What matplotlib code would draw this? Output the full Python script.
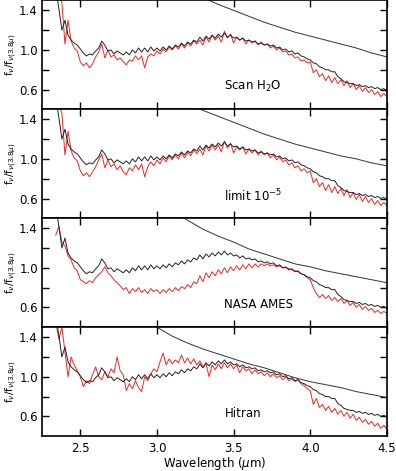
import numpy as np
import matplotlib
matplotlib.use("Agg")
import matplotlib.pyplot as plt
from matplotlib.ticker import FixedLocator, FuncFormatter

plt.rcParams['font.family'] = ['DejaVu Sans']
plt.rcParams['mathtext.fontset'] = 'dejavusans'

# ---------------- data ----------------
# observed spectrum, sampled every 0.02 um from 2.34 um
black_obs = [
    1.62, 1.42, 1.20, 1.30, 1.15, 1.10, 1.07, 1.05, 1.01, 0.97,
    0.94, 0.96, 0.95, 0.99, 1.02, 1.09, 1.05, 0.99, 1.00, 0.96,
    0.99, 0.97, 0.95, 0.98, 0.95, 1.00, 0.97, 1.02, 0.98, 1.02,
    0.98, 1.03, 0.99, 1.02, 0.99, 1.03, 1.00, 1.04, 1.01, 1.05,
    1.03, 1.07, 1.04, 1.08, 1.06, 1.10, 1.08, 1.13, 1.09, 1.14,
    1.11, 1.15, 1.12, 1.16, 1.13, 1.17, 1.13, 1.15, 1.12, 1.13,
    1.10, 1.12, 1.09, 1.10, 1.08, 1.09, 1.06, 1.07, 1.05, 1.06,
    1.04, 1.05, 1.02, 1.03, 1.00, 1.01, 0.98, 0.99, 0.96, 0.97,
    0.94, 0.93, 0.91, 0.90, 0.87, 0.86, 0.83, 0.82, 0.80, 0.80,
    0.78, 0.78, 0.73, 0.71, 0.68, 0.67, 0.66, 0.66, 0.64, 0.65,
    0.63, 0.64, 0.62, 0.63, 0.61, 0.62, 0.60, 0.61, 0.59]

red_scan = [
    1.62, 1.55, 1.48, 1.06, 1.30, 1.09, 1.02, 0.99, 0.88, 0.84,
    0.87, 0.82, 0.86, 0.93, 0.98, 1.06, 0.92, 1.00, 0.93, 0.95,
    0.90, 0.92, 0.88, 0.85, 0.90, 0.89, 0.94, 0.90, 0.94, 0.82,
    0.93, 0.96, 0.94, 0.99, 0.96, 1.01, 0.98, 1.03, 1.00, 1.04,
    1.01, 1.06, 1.02, 1.07, 1.04, 1.09, 1.06, 1.10, 1.05, 1.13,
    1.08, 1.15, 1.10, 1.14, 1.08, 1.19, 1.12, 1.16, 1.07, 1.13,
    1.10, 1.12, 1.06, 1.10, 1.07, 1.09, 1.05, 1.08, 1.05, 1.06,
    1.02, 1.04, 1.00, 1.02, 0.98, 0.99, 0.95, 0.96, 0.92, 0.93,
    0.89, 0.90, 0.87, 0.88, 0.77, 0.80, 0.73, 0.76, 0.69, 0.74,
    0.67, 0.72, 0.66, 0.70, 0.64, 0.69, 0.62, 0.66, 0.60, 0.64,
    0.58, 0.62, 0.57, 0.60, 0.55, 0.58, 0.53, 0.56, 0.53]

red_limit = [
    1.62, 1.55, 1.46, 1.04, 1.28, 1.08, 1.01, 0.98, 0.88, 0.83,
    0.86, 0.82, 0.87, 0.92, 0.99, 1.05, 0.91, 0.99, 0.92, 0.95,
    0.89, 0.93, 0.87, 0.84, 0.91, 0.88, 0.94, 0.89, 0.95, 0.82,
    0.92, 0.97, 0.93, 0.99, 0.95, 1.01, 0.97, 1.03, 0.99, 1.04,
    1.00, 1.06, 1.01, 1.07, 1.03, 1.09, 1.05, 1.10, 1.04, 1.13,
    1.08, 1.14, 1.09, 1.14, 1.07, 1.18, 1.11, 1.16, 1.06, 1.12,
    1.09, 1.12, 1.05, 1.10, 1.06, 1.09, 1.04, 1.08, 1.04, 1.06,
    1.01, 1.04, 0.99, 1.02, 0.97, 0.99, 0.94, 0.96, 0.91, 0.93,
    0.88, 0.90, 0.86, 0.88, 0.76, 0.80, 0.72, 0.76, 0.68, 0.74,
    0.66, 0.72, 0.65, 0.70, 0.63, 0.69, 0.61, 0.66, 0.59, 0.64,
    0.57, 0.62, 0.56, 0.60, 0.54, 0.58, 0.53, 0.56, 0.53]

red_ames = [
    1.33, 1.42, 1.26, 1.22, 1.12, 1.08, 1.00, 0.97, 0.88, 0.86,
    0.84, 0.87, 0.85, 0.90, 0.93, 0.96, 1.01, 0.95, 0.92, 0.88,
    0.85, 0.82, 0.78, 0.80, 0.74, 0.79, 0.76, 0.80, 0.75, 0.78,
    0.74, 0.79, 0.76, 0.78, 0.74, 0.78, 0.75, 0.79, 0.76, 0.80,
    0.77, 0.81, 0.79, 0.83, 0.80, 0.86, 0.84, 0.92, 0.86, 0.95,
    0.90, 0.96, 0.92, 0.98, 0.94, 1.00, 0.95, 1.01, 0.97, 1.02,
    0.98, 1.03, 0.99, 1.04, 1.00, 1.04, 1.01, 1.04, 1.02, 1.04,
    1.02, 1.03, 1.01, 1.02, 1.00, 1.00, 0.99, 0.98, 0.97, 0.96,
    0.94, 0.93, 0.90, 0.88, 0.80, 0.74, 0.70, 0.73, 0.69, 0.72,
    0.67, 0.70, 0.66, 0.69, 0.64, 0.67, 0.62, 0.65, 0.60, 0.63,
    0.58, 0.61, 0.57, 0.59, 0.55, 0.57, 0.54, 0.56, 0.54]

red_hitran = [
    1.55, 1.38, 1.50, 1.25, 1.00, 1.20, 1.12, 1.06, 1.00, 0.90,
    0.96, 0.93, 1.02, 1.10, 1.00, 0.97, 1.05, 1.00, 1.08, 1.04,
    1.20, 1.06, 1.02, 0.86, 0.93, 0.88, 0.96, 0.89, 0.85, 1.00,
    0.96, 1.03, 1.08, 1.05, 1.15, 1.24, 1.12, 1.18, 1.13, 1.17,
    1.14, 1.22, 1.14, 1.19, 1.13, 1.18, 1.12, 1.16, 1.10, 1.13,
    1.00, 1.12, 1.07, 1.13, 1.08, 1.14, 1.09, 1.13, 1.08, 1.12,
    1.04, 1.10, 1.06, 1.08, 1.03, 1.07, 1.03, 1.05, 1.01, 1.04,
    1.00, 1.03, 0.99, 1.01, 0.97, 1.00, 0.96, 0.98, 0.95, 0.97,
    0.93, 0.91, 0.88, 0.86, 0.72, 0.78, 0.69, 0.72, 0.66, 0.70,
    0.64, 0.68, 0.62, 0.66, 0.60, 0.64, 0.58, 0.62, 0.56, 0.59,
    0.54, 0.57, 0.52, 0.55, 0.50, 0.53, 0.48, 0.51, 0.47]

wave = np.round(2.34 + 0.02 * np.arange(len(black_obs)), 2)

# smooth reference curves
bbw_scan = [3.3, 3.4, 3.5, 3.6, 3.7, 3.8, 3.9, 4.0, 4.1, 4.2, 4.3, 4.4, 4.5]
bb_scan = [1.53, 1.46, 1.40, 1.34, 1.28, 1.23, 1.18, 1.14, 1.10, 1.06, 1.02, 0.97, 0.93]
bbw_limit = [3.2, 3.3, 3.4, 3.5, 3.6, 3.7, 3.8, 3.9, 4.0, 4.1, 4.2, 4.3, 4.4, 4.5]
bb_limit = [1.56, 1.49, 1.43, 1.37, 1.31, 1.25, 1.20, 1.15, 1.11, 1.07, 1.03, 1.00, 0.96, 0.93]
bbw_ames = [3.1, 3.2, 3.3, 3.4, 3.5, 3.6, 3.7, 3.8, 3.9, 4.0, 4.1, 4.2, 4.3, 4.4, 4.5]
bb_ames = [1.57, 1.48, 1.39, 1.32, 1.26, 1.19, 1.14, 1.09, 1.04, 1.01, 0.97, 0.94, 0.91, 0.88, 0.85]
bbw_hitran = [2.9, 3.0, 3.1, 3.2, 3.3, 3.4, 3.5, 3.6, 3.7, 3.8, 3.9, 4.0, 4.1, 4.2, 4.3, 4.4, 4.5]
bb_hitran = [1.60, 1.50, 1.41, 1.34, 1.28, 1.23, 1.18, 1.13, 1.09, 1.04, 0.99, 0.95, 0.92, 0.89, 0.85, 0.82, 0.79]

panel_labels = ["Scan H$_2$O", "limit 10$^{-5}$", "NASA AMES", "Hitran"]
reds = [red_scan, red_limit, red_ames, red_hitran]
bbs = [(bbw_scan, bb_scan), (bbw_limit, bb_limit), (bbw_ames, bb_ames), (bbw_hitran, bb_hitran)]

# ---------------- plot ----------------
fig, axes = plt.subplots(4, 1, sharex=True, figsize=(3.96, 4.71), dpi=100)
fig.subplots_adjust(left=0.106, right=0.977, bottom=0.074, top=0.999, hspace=0)

for ax, red, (bw, bv), lab in zip(axes, reds, bbs, panel_labels):
    ax.plot(bw, bv, color="#333333", lw=0.7)
    ax.plot(wave, red, color="#ff2020", lw=0.7)
    ax.plot(wave, black_obs, color="#222222", lw=0.7)
    ax.text(3.44, 0.63, lab, fontsize=8.5, va="center", ha="left")
    ax.set_xlim(2.25, 4.5)
    ax.set_ylim(0.4, 1.5)
    ax.yaxis.set_major_locator(FixedLocator([0.6, 0.8, 1.0, 1.2, 1.4]))
    ax.yaxis.set_major_formatter(FuncFormatter(
        lambda v, p: f"{v:.1f}" if round(v, 1) in (0.6, 1.0, 1.4) else ""))
    ax.xaxis.set_major_locator(FixedLocator([2.5, 3.0, 3.5, 4.0, 4.5]))
    ax.tick_params(direction="in", top=True, right=True, length=5,
                   width=1.0, labelsize=8.5)
    ax.tick_params(axis="y", pad=3)
    ax.tick_params(axis="x", pad=4)
    for s in ax.spines.values():
        s.set_linewidth(1.2)
    ax.set_ylabel(r"f$_\nu$/f$_{\nu(3.8\mu)}$", fontsize=7.5)
    ax.yaxis.set_label_coords(-0.068, 0.5)

axes[-1].set_xlabel(r"Wavelength ($\mu$m)", fontsize=8.5, labelpad=0)

fig.savefig("out.png", dpi=100)
